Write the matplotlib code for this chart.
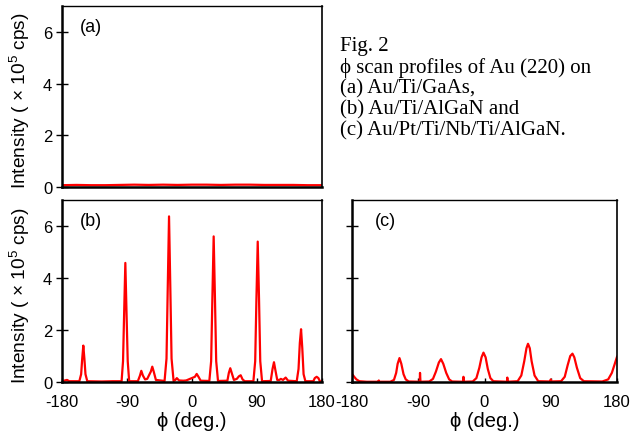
import matplotlib
matplotlib.use('Agg')
import matplotlib.pyplot as plt

plt.rcParams['font.family'] = ['Liberation Sans', 'DejaVu Sans']
plt.rcParams['mathtext.fontset'] = 'custom'
plt.rcParams['mathtext.rm'] = 'Liberation Sans'
plt.rcParams['axes.unicode_minus'] = False

# (a) Au/Ti/GaAs -- flat background
phi_a = [-180, -160, -140, -120, -100, -80, -60, -40, -20, 0, 20, 40, 60, 80, 100, 120, 140, 160, 180]
int_a = [0.07, 0.08, 0.07, 0.07, 0.08, 0.09, 0.08, 0.09, 0.08, 0.09, 0.09, 0.08, 0.09, 0.09, 0.08, 0.08, 0.08, 0.07, 0.07]

# (b) Au/Ti/AlGaN
phi_b = [-180, -176, -173, -170,
         -156, -153.5, -152, -150.5, -149, -147.5, -145,
         -125, -110, -97.5, -95.5, -94, -92.3, -90.6, -89, -87,
         -75, -72, -70.2, -68, -65, -62, -57, -55, -53, -50,
         -38, -35.3, -33.6, -31.8, -30, -28.3, -25.5,
         -23, -21, -18, -12, -8, 4, 6.5, 9, 12,
         24, 26.5, 28.2, 30, 31.8, 33.5, 36,
         49, 51, 53, 55, 58, 62, 65, 67.4, 70, 73,
         85, 87.5, 89.2, 91, 92.8, 94.5, 97,
         109, 111.5, 113.5, 115.5, 118, 121, 123, 126, 129.7, 133,
         145, 147.5, 149.3, 151, 152.7, 154.5, 157,
         168, 170, 172.6, 175, 177, 180]
int_b = [0.02, 0.06, 0.08, 0.03,
         0.03, 0.3, 0.9, 1.40, 0.9, 0.3, 0.03,
         0.02, 0.03, 0.03, 0.8, 2.6, 4.58, 2.6, 0.8, 0.03,
         0.03, 0.25, 0.43, 0.25, 0.1, 0.12, 0.4, 0.59, 0.4, 0.08,
         0.04, 0.9, 3.6, 6.37, 3.6, 0.9, 0.04,
         0.08, 0.15, 0.06, 0.05, 0.06, 0.2, 0.31, 0.2, 0.05,
         0.04, 0.8, 3.2, 5.6, 3.2, 0.8, 0.04,
         0.05, 0.35, 0.53, 0.35, 0.08, 0.12, 0.22, 0.26, 0.1, 0.03,
         0.03, 0.8, 3.2, 5.4, 3.2, 0.8, 0.03,
         0.04, 0.5, 0.76, 0.45, 0.08, 0.08, 0.12, 0.08, 0.17, 0.05,
         0.03, 0.5, 1.5, 2.03, 1.3, 0.3, 0.03,
         0.03, 0.15, 0.2, 0.15, 0.03, 0.02]

# (c) Au/Pt/Ti/Nb/Ti/AlGaN
phi_c = [-180, -177, -174, -170, -160, -144, -143.6, -143.2,
         -128, -123, -120, -118, -115.5, -113, -110, -107, -103,
         -88, -87.6, -87,
         -75, -70, -66, -62, -59.1, -56, -52, -48, -44,
         -29, -28.6, -28.2,
         -16, -11, -7, -4, -1.4, 1.5, 4.5, 8, 12,
         30.6, 31, 31.4,
         45, 50, 54, 57, 59.1, 61.5, 64, 68, 73,
         89.6, 90, 90.4,
         104, 109, 113, 116.5, 119.5, 122, 125.5, 130, 135,
         160, 168, 173, 177, 180]
int_c = [0.31, 0.2, 0.1, 0.03, 0.01, 0.01, 0.06, 0.01,
         0.01, 0.08, 0.35, 0.7, 0.92, 0.7, 0.3, 0.1, 0.02,
         0.01, 0.35, 0.01,
         0.02, 0.12, 0.4, 0.75, 0.88, 0.7, 0.35, 0.1, 0.02,
         0.01, 0.2, 0.01,
         0.02, 0.15, 0.55, 0.95, 1.13, 0.95, 0.5, 0.15, 0.03,
         0.01, 0.17, 0.01,
         0.03, 0.25, 0.8, 1.3, 1.47, 1.3, 0.8, 0.25, 0.03,
         0.02, 0.1, 0.02,
         0.03, 0.2, 0.65, 1.0, 1.09, 0.95, 0.55, 0.15, 0.03,
         0.02, 0.1, 0.35, 0.7, 0.97]

xticks = [-180, -90, 0, 90, 180]
yticks = [0, 2, 4, 6]
ylab = 'Intensity ( $\\times$ 10$^{5}$ cps)'
caption = ['Fig. 2', '\u03d5 scan profiles of Au (220) on', '(a) Au/Ti/GaAs,',
           '(b) Au/Ti/AlGaN and', '(c) Au/Pt/Ti/Nb/Ti/AlGaN.']

W, H = 635, 435
fig = plt.figure(figsize=(W/100, H/100), dpi=100)

def box(l, t, r, b):
    return [l/W, 1 - b/H, (r - l)/W, (b - t)/H]

axa = fig.add_axes(box(62, 7, 322, 188))
axb = fig.add_axes(box(62, 201, 322, 383))
axc = fig.add_axes(box(352, 201, 617, 383))

for ax, x, y, lab, lx in [(axa, phi_a, int_a, '(a)', 0.07), (axb, phi_b, int_b, '(b)', 0.07),
                          (axc, phi_c, int_c, '(c)', 0.087)]:
    ax.plot(x, y, color='red', lw=1.6, solid_joinstyle='round')
    ax.set_xlim(-180, 180)
    ax.set_ylim(0, 7)
    ax.set_xticks(xticks)
    ax.set_yticks(yticks)
    ax.spines['left'].set_linewidth(1.8)
    ax.spines['bottom'].set_linewidth(1.8)
    ax.spines['top'].set_linewidth(1.0)
    ax.spines['right'].set_linewidth(1.2)
    ax.tick_params(axis='y', direction='inout', length=8, width=1.0, labelsize=12, pad=3)
    ax.tick_params(axis='x', direction='in', length=3, width=1.0, labelsize=12, pad=9)
    ax.text(lx, 0.885, lab, transform=ax.transAxes, fontsize=13, ha='left', va='center')

axa.tick_params(axis='x', labelbottom=False, length=0)
axc.tick_params(axis='y', labelleft=False)

for ax in (axa, axb):
    ax.set_ylabel(ylab, fontsize=13.8, va='center')
    ax.yaxis.set_label_coords(-0.162, 0.48)
for ax in (axb, axc):
    ax.set_xlabel('\u03d5 (deg.)', fontsize=14.5, va='center')
    ax.xaxis.set_label_coords(0.5, -0.209)

for i, line in enumerate(caption):
    fig.text(340/W, 1 - (47 + 21*i)/H, line, fontsize=15, family=['Liberation Serif', 'DejaVu Serif'],
             ha='left', va='center')

fig.savefig('out.png', dpi=100)
